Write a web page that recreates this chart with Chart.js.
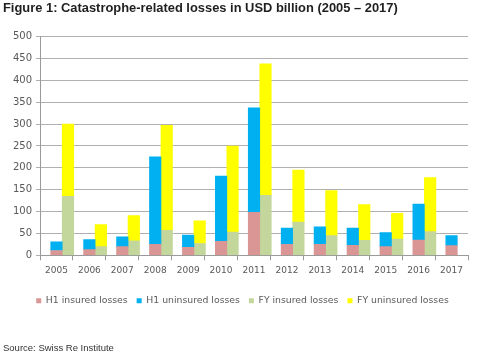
<!DOCTYPE html>
<html>
<head>
<meta charset="utf-8">
<script src="https://cdn.jsdelivr.net/npm/chart.js@4"></script>
<style>
  html, body { margin: 0; padding: 0; background: #ffffff; }
  canvas { display: block; }
</style>
</head>
<body>
<canvas id="c" width="500" height="357"></canvas>
<script>
const years = ['2005','2006','2007','2008','2009','2010','2011','2012','2013','2014','2015','2016','2017'];
const h1Insured   = [11, 13, 20, 25, 18, 32, 98, 25, 25, 23, 20, 35, 22];
const h1Uninsured = [20, 23, 22, 200, 28, 149, 239, 37, 40, 39, 32, 82, 23];
const fyInsured   = [135, 20, 33, 57, 27, 53, 137, 76, 45, 34, 37, 54, null];
const fyUninsured = [165, 50, 58, 240, 52, 197, 301, 119, 103, 82, 59, 124, null];
const yTicks = [0, 50, 100, 150, 200, 250, 300, 350, 400, 450, 500];

Chart.defaults.font.family = "'DejaVu Sans', sans-serif";
Chart.defaults.color = '#595959';

const gray = '#b0b0b0';
const axisGray = '#9a9a9a';

new Chart(document.getElementById('c'), {
  type: 'bar',
  data: {
    labels: years,
    datasets: [
      { label: '', data: years.map(() => null), stack: 'pad', backgroundColor: 'rgba(0,0,0,0)' },
      { label: 'H1 insured losses', data: h1Insured, stack: 'h1', backgroundColor: '#D99694' },
      { label: 'H1 uninsured losses', data: h1Uninsured, stack: 'h1', backgroundColor: '#00B0F0' },
      { label: 'FY insured losses', data: fyInsured, stack: 'fy', backgroundColor: '#C3D69B' },
      { label: 'FY uninsured losses', data: fyUninsured, stack: 'fy', backgroundColor: '#FFFF00' }
    ]
  },
  options: {
    responsive: false,
    animation: false,
    devicePixelRatio: 1,
    barThickness: 11.5,
    layout: { padding: { left: 3, right: 18, top: 0, bottom: 0 } },
    plugins: {
      tooltip: { enabled: false },
      title: {
        display: true,
        text: 'Figure 1: Catastrophe-related losses in USD billion (2005 \u2013 2017)',
        align: 'start',
        color: '#1f1f1f',
        font: { family: "'Liberation Sans', Arial, sans-serif", size: 12.9, weight: 'bold', lineHeight: 1.2 },
        padding: { top: 1.2, bottom: 20 }
      },
      subtitle: {
        display: true,
        position: 'bottom',
        text: 'Source: Swiss Re Institute',
        align: 'start',
        color: '#333333',
        font: { family: "'Liberation Sans', Arial, sans-serif", size: 9.5, lineHeight: 1.2 },
        padding: { top: 27.2, bottom: 3 }
      },
      legend: {
        position: 'bottom',
        labels: {
          filter: (item) => item.text !== '',
          boxWidth: 5,
          boxHeight: 5,
          padding: 9,
          color: '#595959',
          font: { size: 9.3 }
        }
      }
    },
    scales: {
      x: {
        stacked: true,
        grid: { display: true, drawOnChartArea: false, drawTicks: true, tickLength: 5, color: axisGray },
        border: { display: true, color: axisGray },
        ticks: { padding: 5, font: { size: 9 }, color: '#595959', maxRotation: 0 },
        afterFit: (s) => { s.height += 6; }
      },
      y: {
        stacked: true,
        min: 0,
        max: 500,
        afterBuildTicks: (s) => { s.ticks = yTicks.map(v => ({ value: v })); },
        grid: { color: gray, tickLength: 4, drawTicks: true },
        border: { display: true, color: axisGray },
        ticks: { padding: 4, font: { size: 10 }, color: '#595959' },
        afterFit: (s) => { s.width = 37; }
      },
      yR: {
        position: 'right',
        display: true,
        grid: { display: false, drawTicks: false },
        border: { display: false },
        ticks: { display: false },
        afterFit: (s) => { s.width = 14; }
      }
    }
  }
});
</script>
</body>
</html>
